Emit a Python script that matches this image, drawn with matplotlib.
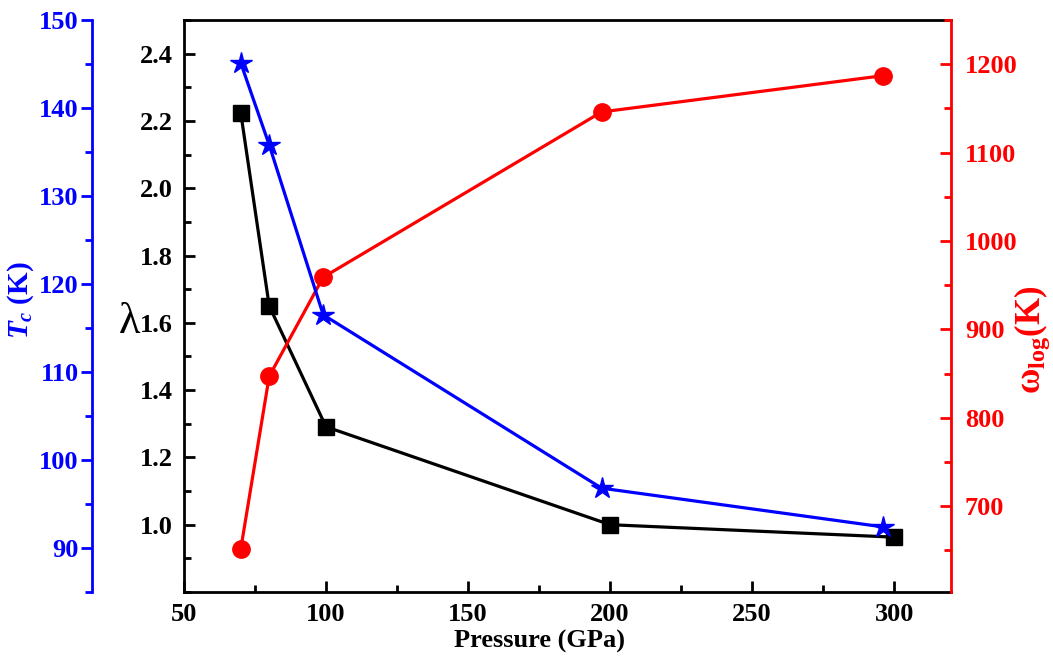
'''Tc, lambda and omega_log versus pressure'''

import matplotlib
matplotlib.use('Agg')
import matplotlib.pyplot as plt
from matplotlib.ticker import MultipleLocator

plt.rcParams['font.family'] = 'Liberation Serif'
plt.rcParams['font.weight'] = 'bold'
plt.rcParams['axes.labelweight'] = 'bold'
plt.rcParams['mathtext.fontset'] = 'custom'
plt.rcParams['mathtext.rm'] = 'Liberation Serif:bold'
plt.rcParams['mathtext.it'] = 'Liberation Serif:italic:bold'
plt.rcParams['mathtext.bf'] = 'Liberation Serif:bold'

# data
p_tc = [70, 80, 99, 197, 296]
tc = [145.1, 135.8, 116.5, 96.8, 92.4]
p_lam = [70, 80, 100, 200, 300]
lam = [2.223, 1.650, 1.291, 1.0, 0.963]
p_w = [70, 80, 99, 197, 296]
wlog = [652, 847, 959, 1146, 1187]

BLUE = '#0000ff'
RED = '#ff0000'
FS = 19

fig = plt.figure(figsize=(10.53, 6.67), dpi=100)
ax = fig.add_axes([184/1053, 75/667, 767/1053, 572/667])

#lambda (black, main axes)
ax.plot(p_lam, lam, color='black', lw=2.3, marker='s', ms=11, zorder=3)
ax.set_xlim(50, 320)
ax.set_ylim(0.8, 2.5)
ax.xaxis.set_major_locator(MultipleLocator(50))
ax.xaxis.set_minor_locator(MultipleLocator(25))
ax.set_yticks([1.0, 1.2, 1.4, 1.6, 1.8, 2.0, 2.2, 2.4])
ax.yaxis.set_minor_locator(MultipleLocator(0.1))
ax.tick_params(which='both', direction='in', width=2, labelsize=FS, top=False, right=False)
ax.tick_params(which='major', length=8, pad=8)
ax.tick_params(which='minor', length=5)
for s in ax.spines.values():
    s.set_linewidth(2)
ax.spines['right'].set_visible(False)
ax.set_xlabel('Pressure (GPa)', fontsize=FS)
ax.xaxis.set_label_coords(0.464, -0.066)
ax.set_ylabel('λ', fontsize=32, fontweight='normal', rotation=0, ha='center', va='center')
ax.yaxis.set_label_coords(-0.071, 0.472)

#omega_log (red, right axis)
aw = ax.twinx()
aw.set_position(ax.get_position())
aw.plot(p_w, wlog, color=RED, lw=2.3, marker='o', ms=12.5, zorder=3)
aw.set_ylim(603, 1250)
aw.yaxis.set_major_locator(MultipleLocator(100))
aw.yaxis.set_minor_locator(MultipleLocator(50))
aw.tick_params(which='both', direction='in', width=2, labelsize=FS, colors=RED)
aw.tick_params(which='major', length=8, pad=10)
aw.tick_params(which='minor', length=5)
for k in ['left', 'top', 'bottom']:
    aw.spines[k].set_visible(False)
aw.spines['right'].set_color(RED)
aw.spines['right'].set_linewidth(2)
aw.set_ylabel(r'$\mathbf{\omega_{log}}$(K)', fontsize=25, color=RED)
aw.yaxis.set_label_coords(1.08, 0.44)

#Tc (blue, offset left axis)
at = ax.twinx()
at.set_position(ax.get_position())
at.plot(p_tc, tc, color=BLUE, lw=2.3, marker='*', ms=16, zorder=3)
at.set_ylim(85, 150)
at.yaxis.set_major_locator(MultipleLocator(10))
at.yaxis.set_minor_locator(MultipleLocator(5))
at.yaxis.set_ticks_position('left')
at.yaxis.set_label_position('left')
for k in ['right', 'top', 'bottom']:
    at.spines[k].set_visible(False)
at.spines['left'].set_position(('axes', -0.12))
at.spines['left'].set_color(BLUE)
at.spines['left'].set_linewidth(2)
at.tick_params(which='both', direction='out', width=2, labelsize=FS, colors=BLUE)
at.tick_params(which='major', length=8, pad=1.5)
at.tick_params(which='minor', length=5)
at.set_ylabel(r'$T_c$ (K)', fontsize=21, color=BLUE)
at.yaxis.set_label_coords(-0.193, 0.51)

fig.savefig('out.png', dpi=100)
